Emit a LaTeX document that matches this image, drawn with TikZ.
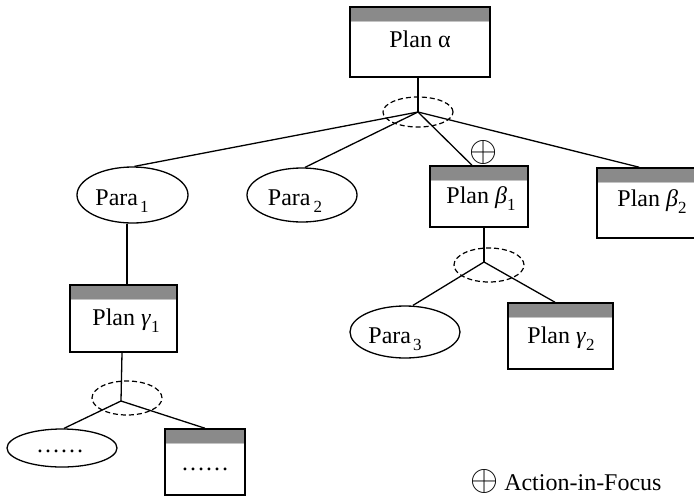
\documentclass[tikz,border=0pt]{standalone}
\usepackage{fontspec}
\setmainfont{Liberation Serif}
\usetikzlibrary{shapes.geometric}
\definecolor{band}{RGB}{138,138,138}
\definecolor{bandlight}{RGB}{195,195,195}
\newcommand\subx[1]{\raisebox{-7.5pt}{\fontsize{17}{17}\selectfont #1}}
\newcommand\myoplus{\scalebox{1.45}{$\oplus$}}
\begin{document}
\begin{tikzpicture}[x=1pt,y=-1pt,
  every node/.style={font=\fontsize{24}{26}\selectfont},
  conn/.style={line width=1.3pt},
  planbox/.style={draw, line width=1.5pt, rectangle, inner sep=0pt,
    path picture={
      \fill[band] (path picture bounding box.north west) rectangle ([yshift=-14pt]path picture bounding box.north east);
      \draw[bandlight, line width=1.2pt] ([yshift=-14.6pt]path picture bounding box.north west) -- ([yshift=-14.6pt]path picture bounding box.north east);
    }},
  paraell/.style={draw, ellipse, line width=1.3pt, inner sep=0pt},
  ring/.style={draw, ellipse, dashed, dash pattern=on 5pt off 3pt, line width=1.2pt, inner sep=0pt, minimum width=70pt},
  lbl/.style={anchor=base, inner sep=0pt}
]
\useasboundingbox (0,0) rectangle (694,496);
\clip (0,0) rectangle (694,496);

% boxes
\node[planbox, minimum width=140pt, minimum height=70pt] (alpha) at (420,42) {};
\node[planbox, minimum width=98pt, minimum height=61pt] (beta1) at (479,196.5) {};
\node[planbox, minimum width=112pt, minimum height=70pt] (beta2) at (653,203) {};
\node[planbox, minimum width=107pt, minimum height=67pt] (gamma1) at (123.5,318.5) {};
\node[planbox, minimum width=105pt, minimum height=66pt] (gamma2) at (560.5,336) {};
\node[planbox, minimum width=80pt, minimum height=66pt] (dotbox) at (205,462) {};

% ellipses
\node[paraell, minimum width=111pt, minimum height=56pt] (para1) at (132.5,195) {};
\node[paraell, minimum width=110pt, minimum height=54pt] (para2) at (302,195) {};
\node[paraell, minimum width=110pt, minimum height=52pt] (para3) at (405,332) {};
\node[paraell, minimum width=110pt, minimum height=38pt] (dotell) at (62,448) {};

% hubs and dashed rings
\coordinate (hub1) at (418,112);
\coordinate (hub2) at (484,262);
\coordinate (hub3) at (121,401);
\node[ring, minimum height=30pt] (ring1) at (418,112) {};
\node[ring, minimum height=34pt] (ring2) at (489,265) {};
\node[ring, minimum height=34pt] (ring3) at (127,398) {};

% texts
\node[lbl] (alpha-t) at (420,47) {Plan α};
\node[lbl] (para1-t) at (122,205) {Para\hspace{2pt}\subx{1}};
\node[lbl] (para2-t) at (295,205) {Para\hspace{3pt}\subx{2}};
\node[lbl] (beta1-t) at (481,203) {Plan \textit{β}\subx{1}};
\node[lbl] (beta2-t) at (652,206) {Plan \textit{β}\subx{2}};
\node[lbl] (gamma1-t) at (126,325) {Plan \textit{γ}\subx{1}};
\node[lbl] (para3-t) at (395,343) {Para\hspace{2pt}\subx{3}};
\node[lbl] (gamma2-t) at (561,343) {Plan \textit{γ}\subx{2}};
\node[lbl] (dotell-t) at (60,452) {……};
\node[lbl] (dotbox-t) at (205,470) {……};
\node[inner sep=0pt] (focus) at (484,152) {\myoplus};
\node[anchor=base west, inner sep=0pt] (legend) at (470,490) {\myoplus\ Action-in-Focus};

% connectors
\draw[conn] ([xshift=-2pt]alpha.south) -- (hub1);
\draw[conn] (hub1) -- ([xshift=2pt]para1.north);
\draw[conn] (hub1) -- ([xshift=3pt]para2.north);
\draw[conn] (hub1) -- ([xshift=-7pt]beta1.north);
\draw[conn] (hub1) -- ([xshift=43pt]beta2.north west);
\draw[conn] ([xshift=5pt]beta1.south) -- (hub2);
\draw[conn] (hub2) -- ([xshift=8pt]para3.north);
\draw[conn] (hub2) -- ([xshift=-5.5pt]gamma2.north);
\draw[conn] ([xshift=-5.5pt]para1.south) -- ([xshift=3.5pt]gamma1.north);
\draw[conn] ([xshift=-1.5pt]gamma1.south) -- (hub3);
\draw[conn] (hub3) -- ([xshift=2pt]dotell.north);
\draw[conn] (hub3) -- (dotbox.north);
\end{tikzpicture}
\end{document}
